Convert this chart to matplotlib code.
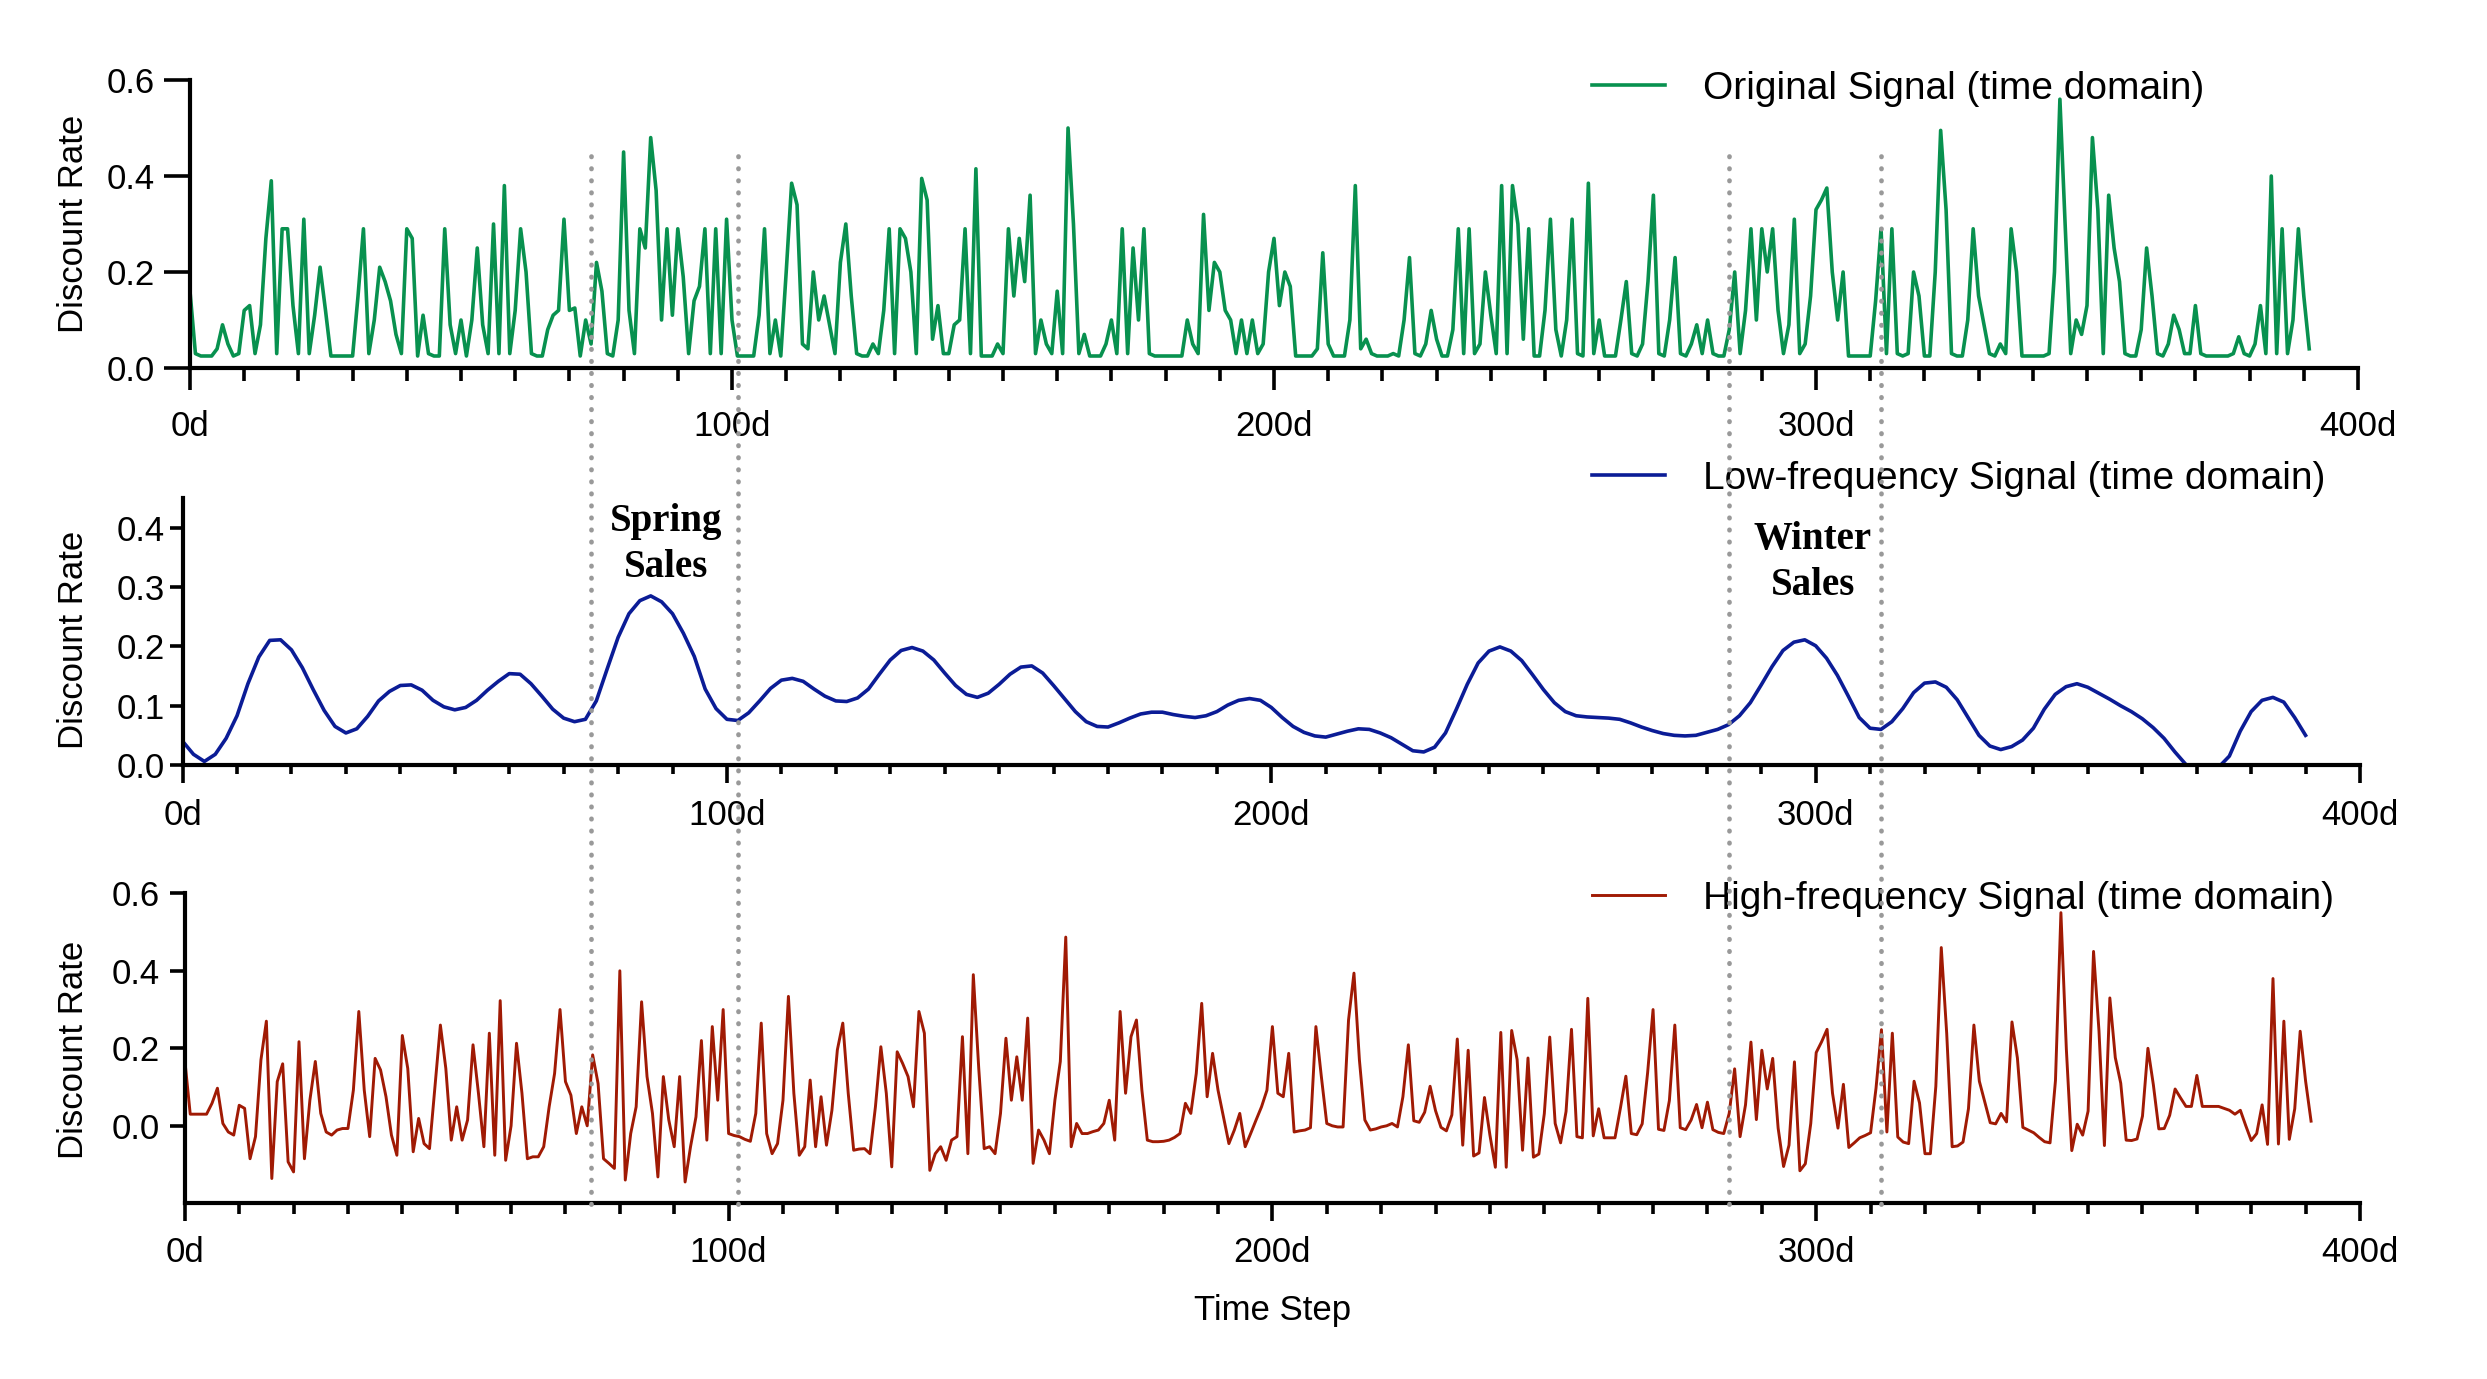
import numpy as np
import matplotlib
matplotlib.use('Agg')
import matplotlib.pyplot as plt
from matplotlib.lines import Line2D
from matplotlib.ticker import MultipleLocator, FuncFormatter

# discount rate per day
original = [
    0.16, 0.03, 0.025, 0.025, 0.025, 0.04, 0.09, 0.05, 0.025, 0.03,
    0.12, 0.13, 0.03, 0.09, 0.27, 0.39, 0.03, 0.29, 0.29, 0.13,
    0.03, 0.31, 0.03, 0.11, 0.21, 0.12, 0.025, 0.025, 0.025, 0.025,
    0.025, 0.15, 0.29, 0.03, 0.1, 0.21, 0.18, 0.14, 0.07, 0.03,
    0.29, 0.27, 0.025, 0.11, 0.03, 0.025, 0.025, 0.29, 0.09, 0.03,
    0.1, 0.025, 0.1, 0.25, 0.09, 0.03, 0.3, 0.03, 0.38, 0.03,
    0.12, 0.29, 0.2, 0.03, 0.025, 0.025, 0.08, 0.11, 0.12, 0.31,
    0.12, 0.125, 0.025, 0.1, 0.05, 0.22, 0.16, 0.03, 0.025, 0.1,
    0.45, 0.12, 0.03, 0.29, 0.25, 0.48, 0.37, 0.1, 0.29, 0.11,
    0.29, 0.19, 0.03, 0.14, 0.17, 0.29, 0.03, 0.29, 0.03, 0.31,
    0.1, 0.025, 0.025, 0.025, 0.025, 0.11, 0.29, 0.03, 0.1, 0.025,
    0.2, 0.385, 0.34, 0.05, 0.04, 0.2, 0.1, 0.15, 0.09, 0.03,
    0.22, 0.3, 0.15, 0.03, 0.025, 0.025, 0.05, 0.03, 0.12, 0.29,
    0.03, 0.29, 0.27, 0.2, 0.03, 0.395, 0.35, 0.06, 0.13, 0.03,
    0.03, 0.09, 0.1, 0.29, 0.03, 0.415, 0.025, 0.025, 0.025, 0.05,
    0.03, 0.29, 0.15, 0.27, 0.18, 0.36, 0.03, 0.1, 0.05, 0.03,
    0.16, 0.03, 0.5, 0.3, 0.03, 0.07, 0.025, 0.025, 0.025, 0.05,
    0.1, 0.03, 0.29, 0.03, 0.25, 0.1, 0.29, 0.03, 0.025, 0.025,
    0.025, 0.025, 0.025, 0.025, 0.1, 0.05, 0.03, 0.32, 0.12, 0.22,
    0.2, 0.12, 0.1, 0.03, 0.1, 0.03, 0.1, 0.03, 0.05, 0.2,
    0.27, 0.13, 0.2, 0.17, 0.025, 0.025, 0.025, 0.025, 0.04, 0.24,
    0.05, 0.025, 0.025, 0.025, 0.1, 0.38, 0.04, 0.06, 0.03, 0.025,
    0.025, 0.025, 0.03, 0.025, 0.1, 0.23, 0.03, 0.025, 0.05, 0.12,
    0.06, 0.025, 0.025, 0.08, 0.29, 0.03, 0.29, 0.03, 0.05, 0.2,
    0.11, 0.03, 0.38, 0.03, 0.38, 0.3, 0.06, 0.29, 0.025, 0.025,
    0.12, 0.31, 0.08, 0.025, 0.1, 0.31, 0.03, 0.025, 0.385, 0.03,
    0.1, 0.025, 0.025, 0.025, 0.1, 0.18, 0.03, 0.025, 0.05, 0.18,
    0.36, 0.03, 0.025, 0.1, 0.23, 0.03, 0.025, 0.05, 0.09, 0.03,
    0.1, 0.03, 0.025, 0.025, 0.08, 0.2, 0.03, 0.12, 0.29, 0.1,
    0.29, 0.2, 0.29, 0.12, 0.03, 0.09, 0.31, 0.03, 0.05, 0.15,
    0.33, 0.35, 0.375, 0.2, 0.1, 0.2, 0.025, 0.025, 0.025, 0.025,
    0.025, 0.14, 0.29, 0.03, 0.29, 0.03, 0.025, 0.03, 0.2, 0.15,
    0.025, 0.025, 0.2, 0.495, 0.33, 0.03, 0.025, 0.025, 0.1, 0.29,
    0.15, 0.09, 0.03, 0.025, 0.05, 0.03, 0.29, 0.2, 0.025, 0.025,
    0.025, 0.025, 0.025, 0.03, 0.2, 0.56, 0.29, 0.03, 0.1, 0.07,
    0.13, 0.48, 0.33, 0.03, 0.36, 0.25, 0.18, 0.03, 0.025, 0.025,
    0.08, 0.25, 0.15, 0.03, 0.025, 0.05, 0.11, 0.08, 0.03, 0.03,
    0.13, 0.03, 0.025, 0.025, 0.025, 0.025, 0.025, 0.03, 0.065, 0.03,
    0.025, 0.05, 0.13, 0.03, 0.4, 0.03, 0.29, 0.03, 0.1, 0.29,
    0.15, 0.04,
]

# low-frequency component, one value every 2 days
low_step = 2
low_freq = [
    0.04, 0.018, 0.006, 0.018, 0.045, 0.083, 0.137, 0.182, 0.21, 0.211,
    0.194, 0.164, 0.127, 0.092, 0.065, 0.054, 0.061, 0.082, 0.108, 0.124,
    0.134, 0.135, 0.126, 0.109, 0.098, 0.093, 0.097, 0.109, 0.126, 0.141,
    0.154, 0.153, 0.137, 0.116, 0.094, 0.079, 0.073, 0.077, 0.108, 0.162,
    0.215, 0.255, 0.277, 0.285, 0.275, 0.255, 0.222, 0.183, 0.128, 0.095,
    0.077, 0.075, 0.088, 0.108, 0.129, 0.143, 0.146, 0.141, 0.128, 0.116,
    0.108, 0.107, 0.113, 0.128, 0.153, 0.177, 0.193, 0.198, 0.192, 0.177,
    0.155, 0.134, 0.119, 0.114, 0.121, 0.136, 0.153, 0.165, 0.167, 0.155,
    0.134, 0.112, 0.09, 0.073, 0.065, 0.064, 0.071, 0.079, 0.086, 0.089,
    0.089, 0.085, 0.082, 0.08, 0.083, 0.09, 0.101, 0.109, 0.112, 0.109,
    0.097, 0.08, 0.065, 0.055, 0.049, 0.047, 0.052, 0.057, 0.061, 0.06,
    0.054, 0.046, 0.035, 0.024, 0.022, 0.03, 0.054, 0.094, 0.136, 0.172,
    0.192, 0.199, 0.192, 0.176, 0.152, 0.127, 0.105, 0.09, 0.083, 0.081,
    0.08, 0.079, 0.077, 0.071, 0.064, 0.058, 0.053, 0.05, 0.049, 0.05,
    0.055, 0.06, 0.068, 0.083, 0.105, 0.135, 0.166, 0.193, 0.207, 0.211,
    0.201, 0.18, 0.151, 0.116, 0.08, 0.062, 0.06, 0.073, 0.095, 0.122,
    0.138, 0.14, 0.131, 0.11, 0.08, 0.05, 0.032, 0.026, 0.031, 0.042,
    0.062, 0.094, 0.119, 0.132, 0.137, 0.131, 0.121, 0.111, 0.1, 0.09,
    0.078, 0.063, 0.045, 0.022, 0.001, -0.012, -0.015, -0.004, 0.015, 0.057,
    0.09, 0.109, 0.114, 0.106, 0.08, 0.05,
]

# high-frequency component per day
high_freq = [
    0.17, 0.03, 0.03, 0.03, 0.03, 0.058, 0.097, 0.006, -0.016, -0.024,
    0.053, 0.045, -0.085, -0.028, 0.17, 0.27, -0.136, 0.114, 0.16, -0.093,
    -0.119, 0.217, -0.085, 0.066, 0.166, 0.032, -0.016, -0.024, -0.011, -0.007,
    -0.007, 0.092, 0.295, 0.092, -0.028, 0.174, 0.144, 0.075, -0.024, -0.076,
    0.233, 0.148, -0.067, 0.019, -0.046, -0.059, 0.1, 0.26, 0.148, -0.037,
    0.049, -0.037, 0.015, 0.209, 0.084, -0.054, 0.239, -0.076, 0.323, -0.089,
    0.0, 0.213, 0.084, -0.085, -0.08, -0.08, -0.054, 0.049, 0.135, 0.3,
    0.114, 0.079, -0.02, 0.049, 0.0, 0.183, 0.109, -0.085, -0.097, -0.11,
    0.4, -0.14, -0.02, 0.049, 0.32, 0.127, 0.032, -0.132, 0.127, 0.015,
    -0.054, 0.127, -0.145, -0.054, 0.023, 0.22, -0.037, 0.256, 0.066, 0.3,
    -0.02, -0.025, -0.028, -0.035, -0.04, 0.032, 0.265, -0.02, -0.072, -0.046,
    0.066, 0.334, 0.084, -0.076, -0.054, 0.118, -0.054, 0.075, -0.05, 0.04,
    0.196, 0.265, 0.084, -0.063, -0.06, -0.059, -0.072, 0.049, 0.204, 0.084,
    -0.106, 0.191, 0.161, 0.127, 0.049, 0.295, 0.239, -0.115, -0.072, -0.054,
    -0.089, -0.037, -0.028, 0.23, -0.072, 0.39, 0.148, -0.059, -0.054, -0.072,
    0.032, 0.226, 0.066, 0.178, 0.066, 0.278, -0.097, -0.011, -0.037, -0.072,
    0.066, 0.166, 0.487, -0.054, 0.006, -0.02, -0.02, -0.015, -0.011, 0.006,
    0.066, -0.037, 0.295, 0.084, 0.23, 0.273, 0.092, -0.037, -0.041, -0.041,
    -0.04, -0.037, -0.03, -0.02, 0.058, 0.032, 0.135, 0.316, 0.075, 0.187,
    0.092, 0.023, -0.046, -0.011, 0.032, -0.054, -0.02, 0.015, 0.049, 0.092,
    0.256, 0.084, 0.075, 0.187, -0.016, -0.013, -0.011, -0.005, 0.256, 0.127,
    0.006, 0.0, -0.003, -0.003, 0.273, 0.394, 0.17, 0.015, -0.011, -0.008,
    -0.003, 0.0, 0.006, -0.003, 0.075, 0.209, 0.013, 0.009, 0.035, 0.102,
    0.039, -0.004, -0.013, 0.028, 0.224, -0.05, 0.195, -0.078, -0.07, 0.073,
    -0.024, -0.107, 0.241, -0.107, 0.246, 0.171, -0.063, 0.175, -0.081, -0.073,
    0.031, 0.229, 0.006, -0.044, 0.037, 0.249, -0.028, -0.031, 0.329, -0.026,
    0.044, -0.031, -0.031, -0.031, 0.046, 0.128, -0.02, -0.023, 0.005, 0.137,
    0.3, -0.009, -0.012, 0.065, 0.26, -0.005, -0.01, 0.015, 0.055, -0.005,
    0.061, -0.01, -0.017, -0.02, 0.032, 0.147, -0.028, 0.054, 0.216, 0.016,
    0.195, 0.095, 0.174, -0.006, -0.105, -0.05, 0.165, -0.116, -0.098, 0.006,
    0.189, 0.217, 0.249, 0.084, -0.006, 0.107, -0.056, -0.044, -0.031, -0.025,
    -0.018, 0.097, 0.248, -0.016, 0.239, -0.029, -0.042, -0.046, 0.115, 0.059,
    -0.072, -0.072, 0.102, 0.46, 0.238, -0.054, -0.052, -0.042, 0.044, 0.26,
    0.115, 0.061, 0.008, 0.005, 0.032, 0.01, 0.268, 0.175, -0.004, -0.011,
    -0.018, -0.03, -0.041, -0.044, 0.117, 0.55, 0.198, -0.064, 0.004, -0.024,
    0.038, 0.45, 0.245, -0.051, 0.33, 0.176, 0.11, -0.037, -0.038, -0.034,
    0.025, 0.2, 0.106, -0.008, -0.007, 0.027, 0.095, 0.072, 0.05, 0.05,
    0.13, 0.05, 0.05, 0.05, 0.05, 0.045, 0.04, 0.03, 0.04, 0.0,
    -0.038, -0.02, 0.054, -0.048, 0.38, -0.047, 0.27, -0.035, 0.044, 0.244,
    0.115, 0.012,
]

# sale periods (day boundaries) and their labels
sale_edges = [75, 102, 284, 312]
sale_labels = ['Spring\nSales', 'Winter\nSales']

legend_labels = ['Original Signal (time domain)',
                 'Low-frequency Signal (time domain)',
                 'High-frequency Signal (time domain)']
colors = ['#08914f', '#0b1c96', '#a01a04']

days = np.arange(len(original))
low_days = np.arange(len(low_freq)) * low_step

plt.rcParams['font.family'] = ['Liberation Sans', 'DejaVu Sans']
plt.rcParams['font.size'] = 12.5

W, H = 2487, 1379
fig = plt.figure(figsize=(W / 200, H / 200), dpi=200)


def box(x0, x1, ytop, ybot):
    return [x0 / W, 1 - ybot / H, (x1 - x0) / W, (ybot - ytop) / H]


ax1 = fig.add_axes(box(190, 2358, 80, 368))
ax2 = fig.add_axes(box(182.6, 2360, 498, 765))
ax3 = fig.add_axes(box(184.8, 2360, 893.3, 1203.3))

ax1.plot(days, original, color=colors[0], lw=1.3, label=legend_labels[0])
ax2.plot(low_days, low_freq, color=colors[1], lw=1.3, label=legend_labels[1])
ax3.plot(days, high_freq, color=colors[2], lw=1.05, label=legend_labels[2])


def style(ax, ylim, ystep, xmaj, xmin, xpad, ylen, ypad, labx, laby, leg_y):
    ax.set_xlim(0, 400)
    ax.set_ylim(*ylim)
    for s in ['top', 'right']:
        ax.spines[s].set_visible(False)
    for s in ['left', 'bottom']:
        ax.spines[s].set_linewidth(1.5)
    ax.xaxis.set_major_locator(MultipleLocator(100))
    ax.xaxis.set_minor_locator(MultipleLocator(10))
    ax.xaxis.set_major_formatter(FuncFormatter(lambda v, p: f'{int(v)}d'))
    ax.yaxis.set_major_locator(MultipleLocator(ystep))
    ax.yaxis.set_major_formatter(FuncFormatter(lambda v, p: f'{v:.1f}'))
    ax.tick_params(axis='x', which='major', length=xmaj, width=1.3, pad=xpad, labelsize=12.5)
    ax.tick_params(axis='x', which='minor', length=xmin, width=1.3)
    ax.tick_params(axis='y', which='major', length=ylen, width=1.3, pad=ypad, labelsize=12.5)
    ax.set_ylabel('Discount Rate', fontsize=12.5)
    ax.yaxis.set_label_coords(labx, laby)
    ax.legend(loc='center left', bbox_to_anchor=(1592 / W, 1 - leg_y / H),
              bbox_transform=fig.transFigure, frameon=False, fontsize=14,
              handlelength=1.88, handletextpad=0.98, borderpad=0, borderaxespad=0)


style(ax1, (0, 0.6), 0.2, 7.9, 4.7, 7.2, 9.4, 3.4, -0.0463, 0.5, 89)
style(ax2, (0, 0.45), 0.1, 6.4, 3.3, 5.7, 4.7, 1.6, -0.0427, 0.47, 479)
style(ax3, (-0.2, 0.6), 0.2, 6.4, 3.9, 5.5, 5.4, 3.6, -0.0437, 0.495, 899)
ax2.set_yticks([0, 0.1, 0.2, 0.3, 0.4])
ax3.set_yticks([0, 0.2, 0.4, 0.6])
ax3.set_xlabel('Time Step', fontsize=12.5, labelpad=8.7)

# sale annotations
ax2.text(88.8, 0.372, sale_labels[0], ha='center', va='center', fontsize=14,
         fontfamily='Liberation Serif', fontweight='bold', linespacing=1.32)
ax2.text(299.5, 0.342, sale_labels[1], ha='center', va='center', fontsize=14,
         fontfamily='Liberation Serif', fontweight='bold', linespacing=1.32)

# dotted separators running through all three panels
y_top = 1 - 156 / H
y_bot = 1 - 1207 / H
for d in sale_edges:
    xpix = ax2.transData.transform((d, 0))[0]
    xf = fig.transFigure.inverted().transform((xpix, 0))[0]
    fig.add_artist(Line2D([xf, xf], [y_top, y_bot], transform=fig.transFigure,
                          color='#999999', lw=1.7, linestyle=(0, (0.1, 2.45)),
                          dash_capstyle='round', zorder=5))

fig.savefig('out.png', dpi=200)
